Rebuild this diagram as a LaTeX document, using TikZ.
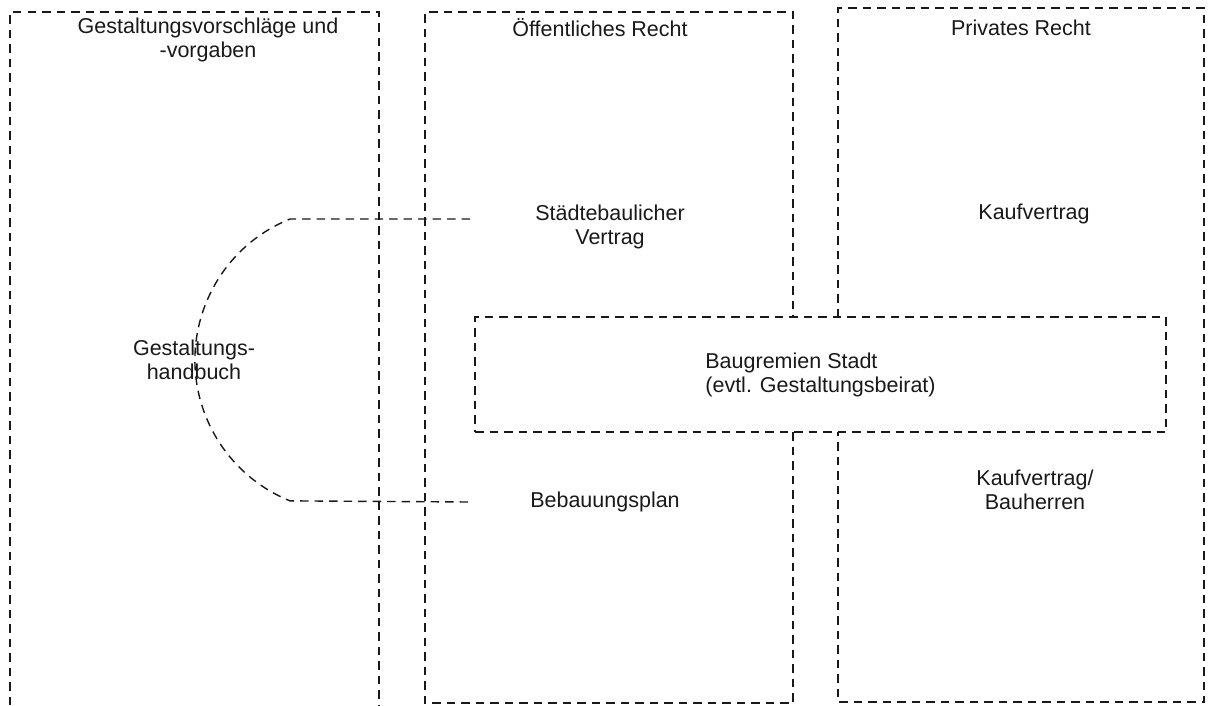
\documentclass[tikz,border=0pt]{standalone}
\usepackage{fontspec}
\setmainfont{Liberation Sans}
\begin{document}
\begin{tikzpicture}[x=1pt,y=-1pt,
  dline/.style={draw=black!90,line width=1.4pt,dash pattern=on 8.5pt off 6pt},
  lbl/.style={font=\fontsize{21.5}{24}\selectfont,align=center,inner sep=0pt,text=black!90}]
\useasboundingbox (0,0) rectangle (1211,705);
% columns
\draw[dline] (10,705) -- (10,12) -- (379,12) -- (379,705);
\draw[dline] (425,704) -- (425,12) -- (793,12) -- (793,317);
\draw[dline] (793,432) -- (793,703) -- (425,703);
\draw[dline] (838,317) -- (838,8) -- (1204,8) -- (1204,702) -- (838,702) -- (838,432);
% central committee box
\node[dline,rectangle,minimum width=691pt,minimum height=115pt,
      font=\fontsize{21.5}{24}\selectfont,align=left,inner sep=0pt,text=black!90]
      (bg) at (820.5,374.5) {Baugremien Stadt\\(evtl. Gestaltungsbeirat)};
% labels
\node[lbl] (gv) at (208,40) {Gestaltungsvorschläge und\\-vorgaben};
\node[lbl] (oe) at (600,28) {Öffentliches Recht};
\node[lbl] (pr) at (1021,28) {Privates Recht};
\node[lbl] (sv) at (610,227) {Städtebaulicher\\Vertrag};
\node[lbl] (kv) at (1034,214) {Kaufvertrag};
\node[lbl] (gh) at (194,360) {Gestaltungs-\\handbuch};
\node[lbl] (bp) at (605,502) {Bebauungsplan};
\node[lbl] (kb) at (1035,490) {Kaufvertrag/\\Bauherren};
% handbook connector
\coordinate (ht) at (290,219);
\coordinate (hte) at (470,219);
\coordinate (hb) at (290,502);
\coordinate (hbe) at (470,502);
\draw[dline] (hte) -- (ht) arc[start angle=-112,end angle=-248,radius=152] -- (hbe);
\end{tikzpicture}
\end{document}
